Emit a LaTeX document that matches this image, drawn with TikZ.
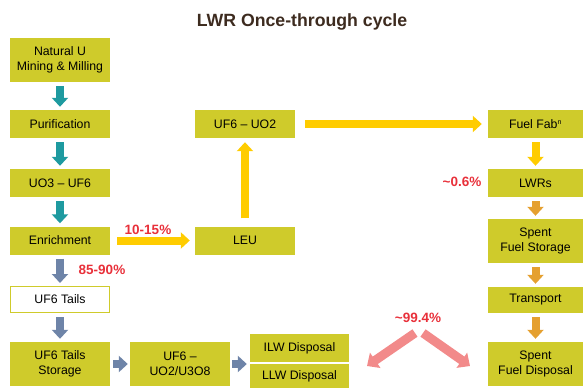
\documentclass[tikz,border=0pt]{standalone}
\usepackage{fontspec}
\setmainfont{Liberation Sans}
\usetikzlibrary{arrows.meta}

\definecolor{boxolive}{HTML}{CFCB2B}
\definecolor{titlebrown}{HTML}{3D2B1F}
\definecolor{tealarr}{HTML}{1E9AA0}
\definecolor{yellowarr}{HTML}{FFCC00}
\definecolor{slatearr}{HTML}{6E84A8}
\definecolor{orangearr}{HTML}{E5A030}
\definecolor{pinkarr}{HTML}{F28A8A}
\definecolor{pctred}{HTML}{E8303A}

\begin{document}
\begin{tikzpicture}[
    x=1pt, y=-1pt,
    stage/.style={fill=boxolive, minimum width=100pt, minimum height=28pt,
        inner sep=0pt, align=center, font=\fontsize{12.3}{15}\selectfont},
    tall/.style={minimum height=44pt},
    pct/.style={text=pctred, font=\fontsize{13.5}{15}\selectfont\bfseries, inner sep=0pt},
    blockarr/.style={line width=8pt, -{Triangle[length=9pt,width=16pt]},
        shorten <=4pt, shorten >=3pt}
    ]
    \useasboundingbox (0,0) rectangle (584,388);

    % Title
    \node[text=titlebrown, font=\fontsize{17.7}{20}\selectfont\bfseries] (title) at (302,22) {LWR Once-through cycle};

    % Left column
    \node[stage, tall] (natu) at (60,60) {Natural U\\Mining \& Milling};
    \node[stage] (purif) at (60,124) {Purification};
    \node[stage] (uothree) at (60,183) {UO3 -- UF6};
    \node[stage] (enrich) at (60,240.5) {Enrichment};
    \node[stage, fill=white, draw=boxolive, line width=1pt, minimum width=99pt, minimum height=26pt] (tails) at (60,299.5) {UF6 Tails};
    \node[stage, tall] (tailstor) at (60,364) {UF6 Tails\\Storage};

    % Bottom row
    \node[stage, tall] (deconv) at (180,364) {UF6 --\\UO2/U3O8};
    \node[stage, minimum width=99pt] (ilw) at (299.5,348) {ILW Disposal};
    \node[stage, minimum width=99pt, minimum height=24pt] (llw) at (299.5,376) {LLW Disposal};

    % Middle column
    \node[stage] (uftwo) at (245,124) {UF6 -- UO2};
    \node[stage] (leu) at (245,240.5) {LEU};

    % Right column
    \node[stage, minimum width=95pt] (fuelfab) at (535.5,124) {Fuel Fab\textsuperscript{\fontsize{7}{7}\selectfont n}};
    \node[stage, minimum width=95pt] (lwr) at (535.5,183) {LWRs};
    \node[stage, tall, minimum width=95pt] (sfstor) at (535.5,241) {Spent\\Fuel Storage};
    \node[stage, minimum width=95pt, minimum height=26pt] (transport) at (535.5,300) {Transport};
    \node[stage, tall, minimum width=95pt] (sfdisp) at (535.5,364) {Spent\\Fuel Disposal};

    % Teal arrows down the left column
    \draw[blockarr, tealarr] (natu.south) -- (purif.north);
    \draw[blockarr, tealarr] (purif.south) -- (uothree.north);
    \draw[blockarr, tealarr] (uothree.south) -- (enrich.north);

    % Tails path
    \draw[blockarr, slatearr] (enrich.south) -- (tails.north);
    \draw[blockarr, slatearr] (tails.south) -- (tailstor.north);
    \draw[blockarr, slatearr, shorten <=3pt, shorten >=2pt] (tailstor.east) -- (deconv.west);
    \draw[blockarr, slatearr, shorten <=2pt, shorten >=3pt] (deconv.east) -- (deconv.east -| ilw.west);

    % Enriched product path
    \draw[blockarr, yellowarr, shorten <=7pt, shorten >=5pt] (enrich.east) -- (leu.west);
    \draw[blockarr, yellowarr, shorten <=8pt, shorten >=4pt] (leu.north) -- (uftwo.south);
    \draw[blockarr, yellowarr, shorten <=10pt, shorten >=6pt] (uftwo.east) -- (fuelfab.west);
    \draw[blockarr, yellowarr] (fuelfab.south) -- (lwr.north);

    % Spent fuel path
    \draw[blockarr, orangearr] (lwr.south) -- (sfstor.north);
    \draw[blockarr, orangearr] (sfstor.south) -- (transport.north);
    \draw[blockarr, orangearr] (transport.south) -- (sfdisp.north);

    % Percentages
    \node[pct] (pctleu) at (148,230) {10-15\%};
    \node[pct] (pcttails) at (102,270) {85-90\%};
    \node[pct] (pctburn) at (462,182) {\char`\~0.6\%};
    \node[pct] (pctrest) at (418,318) {\char`\~99.4\%};

    % Split of the remaining fraction
    \coordinate (splitl) at (415,333);
    \coordinate (splitr) at (423,333);
    \coordinate (toilw) at (367,366);
    \coordinate (tosf) at (470,366);
    \draw[pinkarr, line width=9pt, -{Triangle[length=10pt,width=18pt]}] (splitl) -- (toilw);
    \draw[pinkarr, line width=9pt, -{Triangle[length=10pt,width=18pt]}] (splitr) -- (tosf);
\end{tikzpicture}
\end{document}
